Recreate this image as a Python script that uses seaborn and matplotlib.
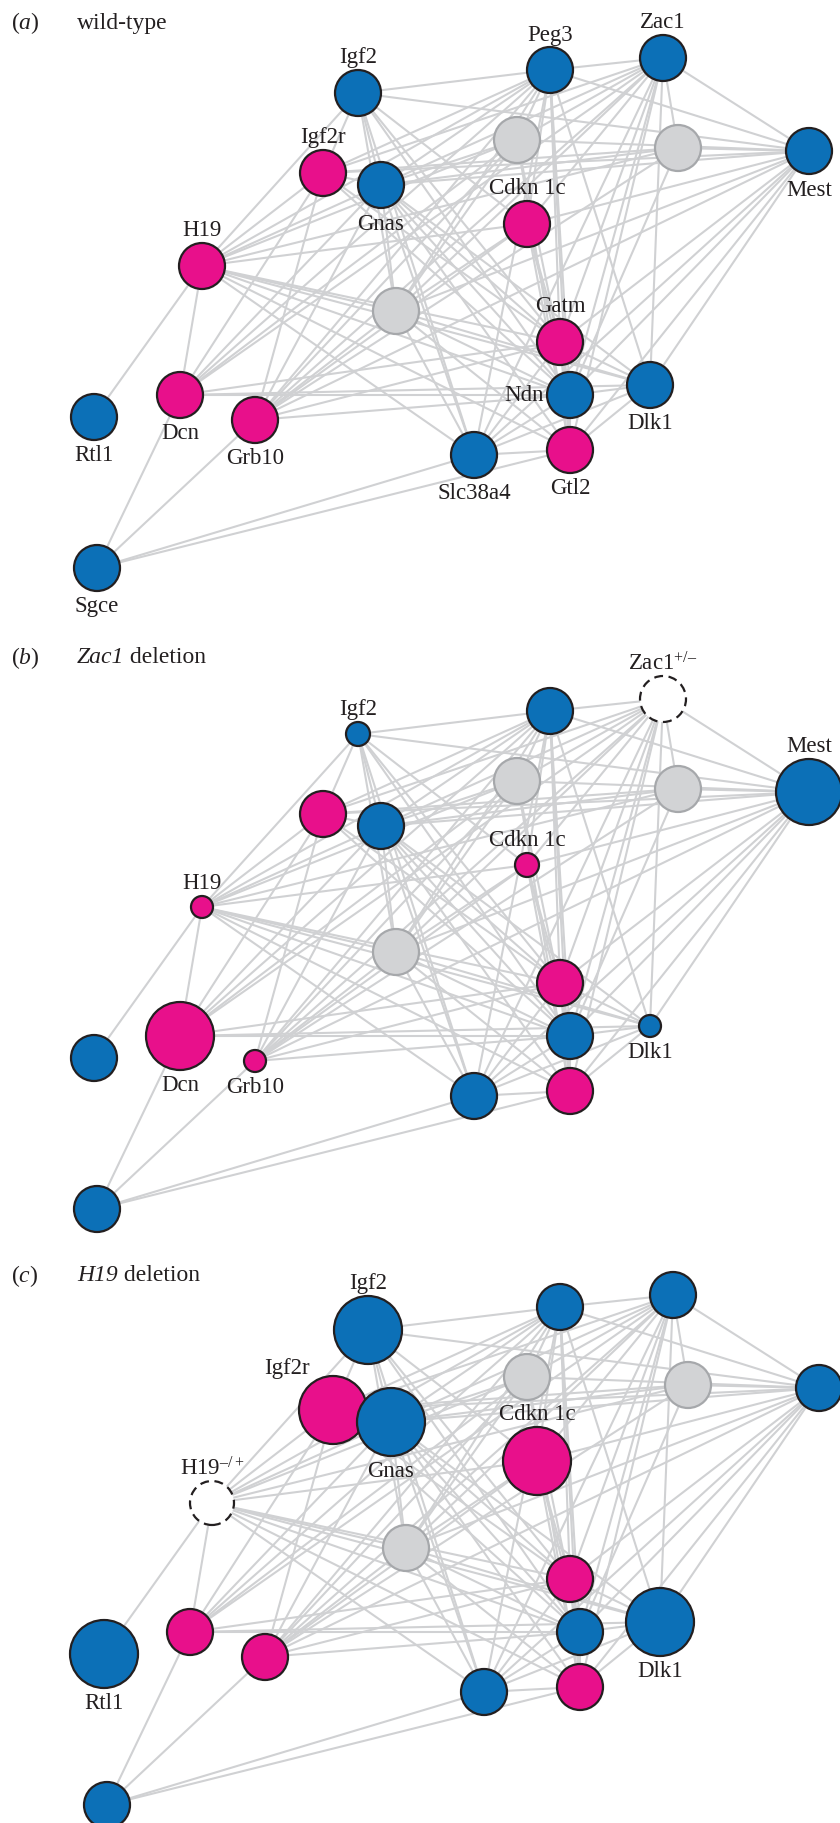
import seaborn as sns
import matplotlib.pyplot as plt
import pandas as pd
from matplotlib.collections import LineCollection

sns.set_style("white")
plt.rcParams['font.family'] = ['Liberation Serif', 'DejaVu Serif']
plt.rcParams['mathtext.fontset'] = 'custom'
plt.rcParams['mathtext.rm'] = 'Liberation Serif'
plt.rcParams['mathtext.it'] = 'Liberation Serif:italic'

# nodes, layout, pixel units
names = ['Igf2', 'Peg3', 'Zac1', 'Mest', 'g1', 'g2', 'Igf2r', 'Gnas', 'Cdkn1c', 'H19',
         'g3', 'Gatm', 'Ndn', 'Dlk1', 'Rtl1', 'Dcn', 'Grb10', 'Slc38a4', 'Gtl2', 'Sgce']
xs = [358, 550, 663, 809, 517, 678, 323, 381, 527, 202,
      396, 560, 570, 650, 94, 180, 255, 474, 570, 97]
ys = [94, 71, 59, 152, 141, 149, 174, 186, 225, 267,
      312, 343, 396, 386, 418, 396, 421, 456, 451, 569]
kind = ['pat', 'pat', 'pat', 'pat', 'none', 'none', 'mat', 'pat', 'mat', 'mat',
        'none', 'mat', 'pat', 'pat', 'pat', 'mat', 'mat', 'pat', 'mat', 'pat']

# node radius per panel
rad_a = [23] * 20
rad_b = [12, 23, 23, 33, 23, 23, 23, 23, 12, 11, 23, 23, 23, 11, 23, 34, 11, 23, 23, 23]
rad_c = [34, 23, 23, 23, 23, 23, 34, 34, 34, 22, 23, 23, 23, 34, 34, 23, 23, 23, 23, 23]

edges = [
    ('Igf2', 'Peg3'), ('Igf2', 'Mest'), ('Igf2', 'Igf2r'), ('Igf2', 'Gnas'), ('Igf2', 'H19'),
    ('Igf2', 'g3'), ('Igf2', 'Cdkn1c'), ('Igf2', 'Gatm'), ('Igf2', 'Ndn'), ('Igf2', 'Slc38a4'),
    ('Peg3', 'Zac1'), ('Peg3', 'Mest'), ('Peg3', 'g1'), ('Peg3', 'Igf2r'), ('Peg3', 'Gnas'),
    ('Peg3', 'Cdkn1c'), ('Peg3', 'H19'), ('Peg3', 'g3'), ('Peg3', 'Gatm'), ('Peg3', 'Ndn'),
    ('Peg3', 'Dlk1'), ('Peg3', 'Dcn'), ('Peg3', 'Grb10'), ('Peg3', 'Slc38a4'), ('Peg3', 'Gtl2'),
    ('Zac1', 'Mest'), ('Zac1', 'g1'), ('Zac1', 'g2'), ('Zac1', 'Igf2r'), ('Zac1', 'Gnas'),
    ('Zac1', 'Cdkn1c'), ('Zac1', 'g3'), ('Zac1', 'Gatm'), ('Zac1', 'Ndn'), ('Zac1', 'Dlk1'),
    ('Zac1', 'Slc38a4'), ('Zac1', 'Gtl2'), ('Zac1', 'Grb10'), ('Zac1', 'Dcn'),
    ('Mest', 'g2'), ('Mest', 'g1'), ('Mest', 'Gnas'), ('Mest', 'Igf2r'), ('Mest', 'Cdkn1c'),
    ('Mest', 'Gatm'), ('Mest', 'Ndn'), ('Mest', 'Dlk1'), ('Mest', 'Gtl2'), ('Mest', 'Slc38a4'),
    ('Mest', 'g3'), ('Mest', 'Grb10'),
    ('g1', 'Gnas'), ('g1', 'H19'), ('g1', 'g3'), ('g1', 'Grb10'), ('g1', 'Dcn'), ('g1', 'Ndn'),
    ('g1', 'Gtl2'),
    ('g2', 'Gnas'), ('g2', 'Igf2r'), ('g2', 'H19'), ('g2', 'Ndn'), ('g2', 'Grb10'),
    ('Igf2r', 'Gnas'), ('Igf2r', 'H19'), ('Igf2r', 'Grb10'), ('Igf2r', 'Dcn'), ('Igf2r', 'Gatm'),
    ('Igf2r', 'Ndn'),
    ('Gnas', 'H19'), ('Gnas', 'g3'), ('Gnas', 'Gatm'), ('Gnas', 'Ndn'), ('Gnas', 'Dlk1'),
    ('Gnas', 'Gtl2'), ('Gnas', 'Slc38a4'), ('Gnas', 'Grb10'), ('Gnas', 'Dcn'),
    ('Cdkn1c', 'H19'), ('Cdkn1c', 'Gatm'), ('Cdkn1c', 'Ndn'), ('Cdkn1c', 'Gtl2'),
    ('Cdkn1c', 'Grb10'), ('Cdkn1c', 'g3'),
    ('H19', 'Rtl1'), ('H19', 'Dcn'), ('H19', 'g3'), ('H19', 'Gatm'), ('H19', 'Ndn'),
    ('H19', 'Slc38a4'), ('H19', 'Gtl2'), ('H19', 'Dlk1'),
    ('g3', 'Ndn'), ('g3', 'Dlk1'), ('g3', 'Gtl2'), ('g3', 'Slc38a4'), ('g3', 'Grb10'),
    ('Gatm', 'Ndn'), ('Gatm', 'Dlk1'), ('Gatm', 'Gtl2'), ('Gatm', 'Slc38a4'), ('Gatm', 'Dcn'),
    ('Gatm', 'Grb10'),
    ('Ndn', 'Dlk1'), ('Ndn', 'Gtl2'), ('Ndn', 'Slc38a4'), ('Ndn', 'Dcn'), ('Ndn', 'Grb10'),
    ('Dlk1', 'Gtl2'), ('Dlk1', 'Slc38a4'), ('Dlk1', 'Dcn'),
    ('Slc38a4', 'Gtl2'),
    ('Sgce', 'Dcn'), ('Sgce', 'Grb10'), ('Sgce', 'Slc38a4'), ('Sgce', 'Gtl2'),
]

# labels per panel: name -> (text, where)
labels_a = {'Igf2': ('Igf2', 'up'), 'Peg3': ('Peg3', 'up'), 'Zac1': ('Zac1', 'up'),
            'Mest': ('Mest', 'down'), 'Igf2r': ('Igf2r', 'up'), 'Gnas': ('Gnas', 'down'),
            'Cdkn1c': ('Cdkn 1c', 'up'), 'H19': ('H19', 'up'), 'Gatm': ('Gatm', 'up'),
            'Ndn': ('Ndn', 'left'), 'Dlk1': ('Dlk1', 'down'), 'Rtl1': ('Rtl1', 'down'),
            'Dcn': ('Dcn', 'down'), 'Grb10': ('Grb10', 'down'), 'Slc38a4': ('Slc38a4', 'down'),
            'Gtl2': ('Gtl2', 'down'), 'Sgce': ('Sgce', 'down')}
labels_b = {'Igf2': ('Igf2', 'up'), 'Zac1': (r'Zac1$^{+/–}$', 'up'), 'Mest': ('Mest', 'up'),
            'Cdkn1c': ('Cdkn 1c', 'up'), 'H19': ('H19', 'up'), 'Dcn': ('Dcn', 'down'),
            'Grb10': ('Grb10', 'down'), 'Dlk1': ('Dlk1', 'down')}
labels_c = {'Igf2': ('Igf2', 'up'), 'Igf2r': ('Igf2r', 'upleft'), 'Gnas': ('Gnas', 'down'),
            'Cdkn1c': ('Cdkn 1c', 'up'), 'H19': (r'H19$^{–/+}$', 'up'), 'Rtl1': ('Rtl1', 'down'),
            'Dlk1': ('Dlk1', 'down')}

panel_letters = ['a', 'b', 'c']
title_gene = [None, 'Zac1', 'H19']
title_rest = ['wild-type', ' deletion', ' deletion']
title_y = [23, 658, 1276]
panel_dx = [0, 0, 10]
panel_dy = [0, 641, 1237]
deleted = [None, 'Zac1', 'H19']

pal = {'pat': '#0c70b7', 'mat': '#e8108b', 'none': '#d2d3d5'}
ink = '#231f20'

fig = plt.figure(figsize=(8.4, 18.24), dpi=100)
ax = fig.add_axes([0, 0, 1, 1])
ax.set_xlim(0, 840)
ax.set_ylim(1824, 0)
ax.axis('off')

idx = {n: i for i, n in enumerate(names)}

for p, rads in enumerate([rad_a, rad_b, rad_c]):
    df = pd.DataFrame({'name': names,
                       'x': [v + panel_dx[p] for v in xs],
                       'y': [v + panel_dy[p] for v in ys],
                       'kind': kind,
                       'r': rads})
    df['s'] = (2 * df['r'] * 0.72) ** 2

    segs = [[(df.x[idx[a]], df.y[idx[a]]), (df.x[idx[b]], df.y[idx[b]])] for a, b in edges]
    ax.add_collection(LineCollection(segs, colors='#d0d1d3', linewidths=1.5, zorder=1))

    dele = df[df['name'] == deleted[p]]
    grey = df[(df['kind'] == 'none') & (df['name'] != deleted[p])]
    col = df[(df['kind'] != 'none') & (df['name'] != deleted[p])]
    sns.scatterplot(data=grey, x='x', y='y', hue='kind', palette=pal, size='s',
                    sizes={v: v for v in grey['s'].unique()}, edgecolor='#a6a8ab',
                    linewidth=1.6, legend=False, ax=ax, zorder=3)
    sns.scatterplot(data=col, x='x', y='y', hue='kind', palette=pal, size='s',
                    sizes={v: v for v in col['s'].unique()}, edgecolor=ink,
                    linewidth=1.6, legend=False, ax=ax, zorder=3)
    if len(dele):
        ax.scatter(dele['x'], dele['y'], s=dele['s'], facecolor='white', edgecolor=ink,
                   linewidths=1.6, linestyle=(0, (4, 2.5)), zorder=3)

    labs = [labels_a, labels_b, labels_c][p]
    for n, (txt, where) in labs.items():
        x, y, r = df.x[idx[n]], df.y[idx[n]], df.r[idx[n]]
        if where == 'up':
            ax.text(x, y - r - 13, txt, ha='center', va='center', fontsize=16.5, color=ink)
        elif where == 'down':
            ax.text(x, y + r + 15, txt, ha='center', va='center', fontsize=16.5, color=ink)
        elif where == 'left':
            ax.text(x - r - 3, y, txt, ha='right', va='center', fontsize=16.5, color=ink)
        else:
            ax.text(x - r * 1.35, y - r * 1.25, txt, ha='center', va='center', fontsize=16.5,
                    color=ink)

    ax.text(11, title_y[p], r'($\mathit{' + panel_letters[p] + r'}$)', ha='left', va='center',
            fontsize=17, color=ink)
    if title_gene[p] is None:
        ax.text(77, title_y[p], title_rest[p], ha='left', va='center', fontsize=17, color=ink)
    else:
        t = ax.text(77, title_y[p], title_gene[p], ha='left', va='center', fontsize=17,
                    fontstyle='italic', color=ink)
        ax.annotate(title_rest[p], xy=(1, 0.5), xycoords=t, ha='left', va='center',
                    fontsize=17, color=ink)

fig.savefig('out.png', dpi=100)
